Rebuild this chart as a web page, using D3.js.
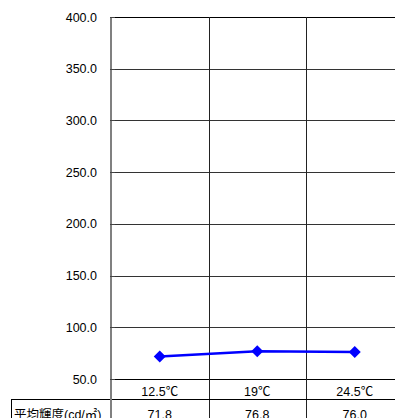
<!DOCTYPE html>
<html>
<head>
<meta charset="utf-8">
<script src="https://cdn.jsdelivr.net/npm/d3@7"></script>
<style>
  html, body { margin: 0; padding: 0; background: #fff; overflow: hidden; }
  svg { display: block; }
</style>
</head>
<body>
<svg id="chart" width="395" height="418"></svg>
<script>
// データ
const categories = ["12.5℃", "19℃", "24.5℃"];
const luminance = [71.8, 76.8, 76.0];
const yTicks = [50, 100, 150, 200, 250, 300, 350, 400];
const rowLabel = "平均輝度(cd/㎡)";

const svg = d3.select("#chart");
const font = "'Liberation Sans', Arial, 'Noto Sans CJK JP', sans-serif";

const plotLeft = 111, plotRight = 403.5, plotTop = 17, plotBottom = 379;
const row1Bottom = 399, tableBottom = 430;

const x = d3.scaleBand().domain(categories).range([plotLeft, plotRight]);
const y = d3.scaleLinear().domain([50, 400]).range([plotBottom, plotTop]);

// グリッド線
svg.append("g")
  .selectAll("line")
  .data(yTicks)
  .enter()
  .append("line")
  .attr("x1", plotLeft)
  .attr("x2", 395)
  .attr("y1", d => Math.round(y(d)) + 0.5)
  .attr("y2", d => Math.round(y(d)) + 0.5)
  .attr("stroke", d => d === 400 || d === 50 ? "#000" : "#333")
  .attr("stroke-width", 1);

// カテゴリ境界の縦線（表まで延長）
svg.append("g")
  .selectAll("line")
  .data(categories.slice(1))
  .enter()
  .append("line")
  .attr("x1", d => Math.round(x(d)) + 0.5)
  .attr("x2", d => Math.round(x(d)) + 0.5)
  .attr("y1", plotTop)
  .attr("y2", tableBottom)
  .attr("stroke", "#222")
  .attr("stroke-width", 1);

// 表の横線
svg.append("line")
  .attr("x1", 11).attr("x2", 395)
  .attr("y1", row1Bottom + 0.5).attr("y2", row1Bottom + 0.5)
  .attr("stroke", "#000");

svg.append("line")
  .attr("x1", 11.5).attr("x2", 11.5)
  .attr("y1", row1Bottom).attr("y2", tableBottom)
  .attr("stroke", "#000");

// Y軸
svg.append("line")
  .attr("x1", 111).attr("x2", 111)
  .attr("y1", plotTop).attr("y2", tableBottom)
  .attr("stroke", "#808080")
  .attr("stroke-width", 2);

svg.append("g")
  .selectAll("line")
  .data(yTicks)
  .enter()
  .append("line")
  .attr("x1", 110)
  .attr("x2", 115)
  .attr("y1", d => Math.round(y(d)) + 0.5)
  .attr("y2", d => Math.round(y(d)) + 0.5)
  .attr("stroke", "#444");

svg.append("g")
  .selectAll("text")
  .data(yTicks)
  .enter()
  .append("text")
  .attr("x", 97)
  .attr("y", d => y(d) + 4.5)
  .attr("text-anchor", "end")
  .style("font-family", font)
  .style("font-size", "12.5px")
  .style("fill", "#000")
  .text(d => d.toFixed(1));

// 折れ線
const line = d3.line()
  .x((d, i) => x(categories[i]) + x.bandwidth() / 2)
  .y(d => y(d));

svg.append("path")
  .datum(luminance)
  .attr("d", line)
  .attr("fill", "none")
  .attr("stroke", "#0000FF")
  .attr("stroke-width", 2.5);

svg.append("g")
  .selectAll("path")
  .data(luminance)
  .enter()
  .append("path")
  .attr("transform", (d, i) => `translate(${x(categories[i]) + x.bandwidth() / 2}, ${y(d)})`)
  .attr("d", "M0,-6L6,0L0,6L-6,0Z")
  .attr("fill", "#0000FF");

// 表：カテゴリ行
svg.append("g")
  .selectAll("text")
  .data(categories)
  .enter()
  .append("text")
  .attr("x", d => x(d) + x.bandwidth() / 2)
  .attr("y", 396)
  .attr("text-anchor", "middle")
  .style("font-family", font)
  .style("font-size", "12.5px")
  .text(d => d);

// 表：値の行
svg.append("text")
  .attr("x", 14)
  .attr("y", 419)
  .style("font-family", font)
  .style("font-size", "12.5px")
  .text(rowLabel);

svg.append("g")
  .selectAll("text")
  .data(luminance)
  .enter()
  .append("text")
  .attr("x", (d, i) => x(categories[i]) + x.bandwidth() / 2)
  .attr("y", 419)
  .attr("text-anchor", "middle")
  .style("font-family", font)
  .style("font-size", "12.5px")
  .text(d => d.toFixed(1));
</script>
</body>
</html>
